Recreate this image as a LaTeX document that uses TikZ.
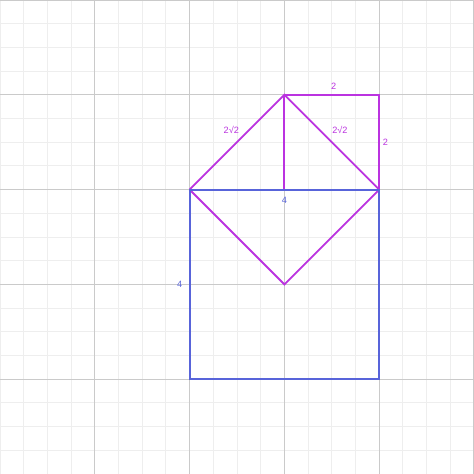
\documentclass[tikz,border=0pt]{standalone}
\usepackage{fontspec}
\setmainfont{Liberation Sans}
\definecolor{pur}{HTML}{BB33E0}
\definecolor{bluc}{RGB}{88,100,218}
\definecolor{gminor}{HTML}{EEEEEE}
\definecolor{gmajor}{HTML}{CACACA}
\tikzset{
  purline/.style={draw=pur, line width=1.1pt},
  bluline/.style={draw=bluc, line width=1.1pt},
  lab/.style={font=\fontsize{5.5}{6}\selectfont, inner sep=0pt},
}
\begin{document}
\begin{tikzpicture}
\fill[white] (-4,-6) rectangle (6,4);
\useasboundingbox (-4,-6) rectangle (6,4);
\draw[gminor, line width=0.5pt, step=0.5] (-4,-6) grid (6,4);
\draw[gmajor, line width=0.6pt, step=2] (-4,-6) grid (6,4);
\coordinate (A) at (0,0);
\coordinate (B) at (4,0);
\coordinate (C) at (4,-4);
\coordinate (D) at (0,-4);
\coordinate (T) at (2,2);
\coordinate (R) at (4,2);
\coordinate (M) at (2,0);
\coordinate (V) at (2,-2);
\draw[purline] (A) -- (V) -- (B);
\draw[purline] (A) -- (T) -- (B);
\draw[purline] (T) -- (M);
\draw[purline] (T) -- (R) -- (B);
\draw[bluline] (A) -- (B) -- (C) -- (D) -- cycle;
\node[lab, text=pur] (l1) at (0.88,1.25) {2√2};
\node[lab, text=pur] (l2) at (3.17,1.25) {2√2};
\node[lab, text=pur] (l3) at (3.04,2.18) {2};
\node[lab, text=pur] (l4) at (4.13,1.0) {2};
\node[lab, text=bluc] (l5) at (2,-0.22) {4};
\node[lab, text=bluc] (l6) at (-0.21,-2.0) {4};
\end{tikzpicture}
\end{document}
